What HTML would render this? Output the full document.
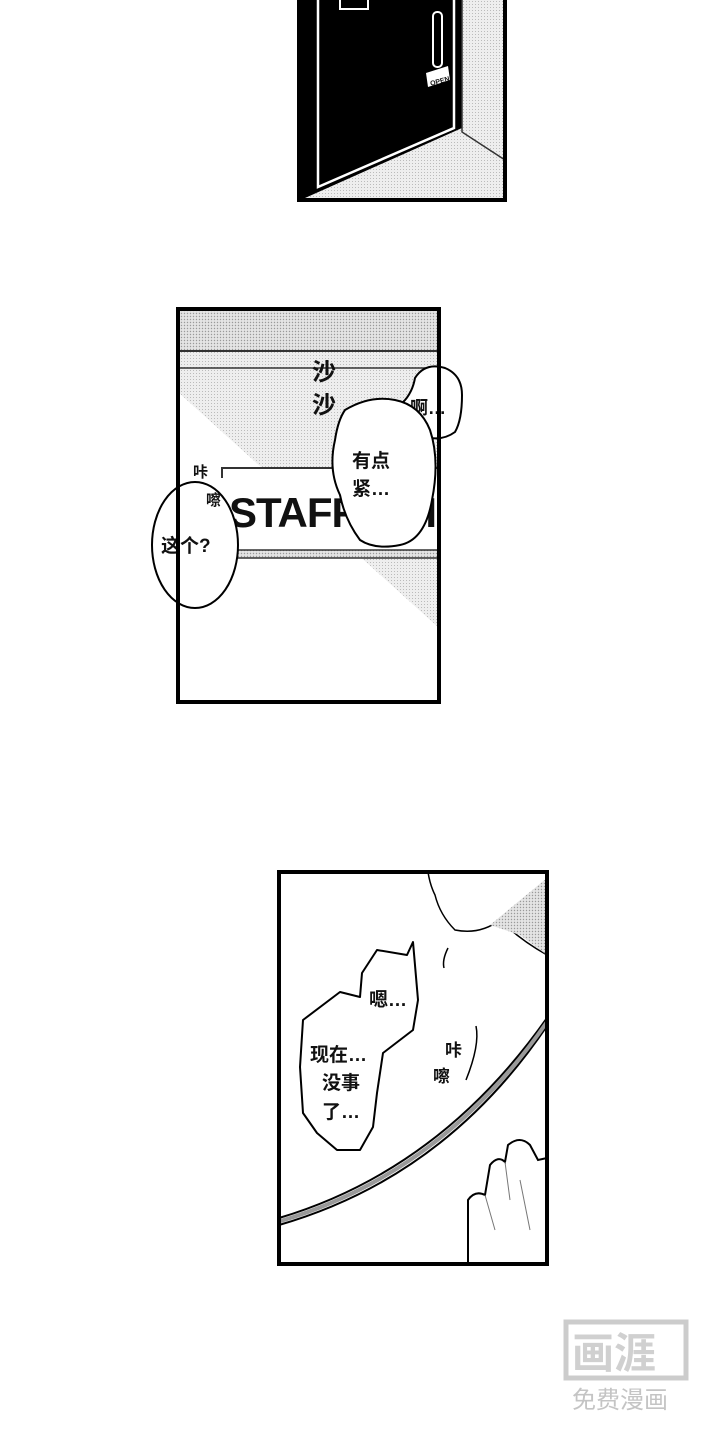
<!DOCTYPE html>
<html><head><meta charset="utf-8"><style>
html,body{margin:0;padding:0;background:#fff;}
svg{display:block;}
text{font-family:"Liberation Sans","Noto Sans CJK SC",sans-serif;fill:#111;}
</style></head><body>
<svg width="720" height="1440" viewBox="0 0 720 1440" xmlns="http://www.w3.org/2000/svg">
<defs>
<pattern id="dots" width="3" height="3" patternUnits="userSpaceOnUse">
<rect width="3" height="3" fill="#e4e4e4"/><circle cx="1.5" cy="1.5" r="0.7" fill="#9a9a9a"/>
</pattern>
<pattern id="dots2" width="3" height="3" patternUnits="userSpaceOnUse">
<rect width="3" height="3" fill="#eeeeee"/><circle cx="1.5" cy="1.5" r="0.5" fill="#aaa"/>
</pattern>
</defs>

<!-- Panel 1 -->
<rect x="299" y="-5" width="206" height="205" fill="url(#dots2)"/>
<path d="M299,-5 L462,-5 L462,128 L305,198 L299,198 Z" fill="#000"/>
<path d="M318,-5 L318,187 L454,128 L454,-5" fill="none" stroke="#fff" stroke-width="2.5"/>
<path d="M462,0 L462,132 L505,160" fill="none" stroke="#333" stroke-width="1.5"/>
<rect x="433" y="12" width="9" height="55" rx="4" fill="none" stroke="#fff" stroke-width="2"/>
<polygon points="426,73 448,66 450,80 428,87" fill="#fff"/>
<text x="429" y="84" font-size="7" font-weight="bold" transform="rotate(-15 437 78)">OPEN</text>
<rect x="340" y="-5" width="28" height="14" fill="none" stroke="#fff" stroke-width="2"/>
<rect x="299" y="-5" width="206" height="205" fill="none" stroke="#000" stroke-width="4"/>

<!-- Panel 2 -->
<rect x="178" y="309" width="261" height="393" fill="#fff"/>
<rect x="178" y="309" width="261" height="42" fill="url(#dots)"/>
<polygon points="178,351 439,351 439,628 178,392" fill="url(#dots2)"/>
<line x1="178" y1="351" x2="439" y2="351" stroke="#333" stroke-width="2"/>
<line x1="178" y1="368" x2="439" y2="368" stroke="#333" stroke-width="1.5"/>
<rect x="222" y="468" width="217" height="82" fill="#fff"/>
<path d="M222,478 L222,468 L439,468" fill="none" stroke="#333" stroke-width="2"/>
<rect x="222" y="550" width="217" height="8" fill="url(#dots)"/>
<line x1="222" y1="550" x2="439" y2="550" stroke="#333" stroke-width="1.5"/>
<line x1="222" y1="558" x2="439" y2="558" stroke="#333" stroke-width="1.5"/>
<text x="229" y="527" font-size="42" font-weight="bold" letter-spacing="-1">STAFF</text>
<text x="395" y="527" font-size="42" font-weight="bold">NI</text>
<text x="312" y="380" font-size="24" font-weight="bold">沙</text>
<text x="312" y="413" font-size="24" font-weight="bold">沙</text>
<!-- 啊 bubble -->
<path d="M400,405 Q412,395 415,378 Q425,362 445,368 Q462,375 462,395 Q462,420 455,432 Q440,443 420,435 Q405,425 400,405 Z" fill="#fff" stroke="#000" stroke-width="2"/>
<text x="410" y="414" font-size="18" font-weight="bold">啊…</text>
<!-- 有点紧 bubble -->
<path d="M345,410 Q370,395 395,400 Q420,405 430,430 Q440,460 432,500 Q425,540 400,545 Q375,550 360,540 Q345,520 340,495 Q328,470 335,440 Q338,420 345,410 Z" fill="#fff" stroke="#000" stroke-width="2"/>
<text x="352" y="467" font-size="19" font-weight="bold">有点</text>
<text x="352" y="495" font-size="19" font-weight="bold">紧…</text>
<!-- 这个 bubble -->
<ellipse cx="195" cy="545" rx="43" ry="63" fill="#fff" stroke="#000" stroke-width="2"/>
<text x="161" y="552" font-size="19" font-weight="bold">这个?</text>
<text x="193" y="477" font-size="15" font-weight="bold">咔</text>
<text x="206" y="505" font-size="15" font-weight="bold">嚓</text>
<rect x="178" y="309" width="261" height="393" fill="none" stroke="#000" stroke-width="4"/>

<!-- Panel 3 -->
<rect x="279" y="872" width="268" height="392" fill="#fff"/>
<path d="M428,872 Q430,885 435,895 Q440,915 455,930 Q480,935 500,920 Q520,940 547,955 L547,872 Z" fill="none" stroke="#000" stroke-width="1.5"/>
<polygon points="490,925 547,878 547,955 520,935" fill="url(#dots)"/>
<path d="M279,1218 Q440,1170 547,1018" fill="none" stroke="#000" stroke-width="2"/>
<path d="M279,1225 Q445,1177 547,1026" fill="none" stroke="#000" stroke-width="2"/>
<path d="M279,1221.5 Q442,1173.5 547,1022" fill="none" stroke="#999" stroke-width="4"/>
<path d="M448,948 Q442,960 444,968" fill="none" stroke="#000" stroke-width="1.5"/>
<path d="M476,1026 Q480,1045 466,1080" fill="none" stroke="#000" stroke-width="1.5"/>
<text x="445" y="1056" font-size="17" font-weight="bold">咔</text>
<text x="433" y="1082" font-size="17" font-weight="bold">嚓</text>
<!-- hand -->
<path d="M468,1265 L468,1200 Q475,1190 485,1195 L490,1165 Q498,1155 505,1162 L508,1145 Q520,1135 530,1145 L538,1160 L547,1158 L547,1265" fill="#fff" stroke="#000" stroke-width="2"/>
<path d="M485,1195 L495,1230 M505,1162 L510,1200 M520,1180 L530,1230" stroke="#777" stroke-width="1" fill="none"/>
<!-- bubble -->
<path d="M303,1020 L340,992 L360,997 L362,973 L377,950 L407,955 L413,942 L418,1000 L413,1030 L383,1053 L377,1093 L373,1127 L360,1150 L337,1150 L317,1133 L303,1113 L300,1067 Z" fill="#fff" stroke="#000" stroke-width="2" stroke-linejoin="round"/>
<text x="369" y="1006" font-size="19" font-weight="bold">嗯…</text>
<text x="310" y="1061" font-size="19" font-weight="bold">现在…</text>
<text x="322" y="1089" font-size="19" font-weight="bold">没事</text>
<text x="322" y="1118" font-size="19" font-weight="bold">了…</text>
<rect x="279" y="872" width="268" height="392" fill="none" stroke="#000" stroke-width="4"/>

<!-- watermark -->
<rect x="566" y="1322" width="120" height="56" fill="none" stroke="#ccc" stroke-width="5"/>
<text x="572" y="1368" font-size="42" font-weight="bold" style="fill:#d0d0d0">画涯</text>
<text x="572" y="1408" font-size="24" style="fill:#c4c4c4">免费漫画</text>
</svg>
</body></html>
